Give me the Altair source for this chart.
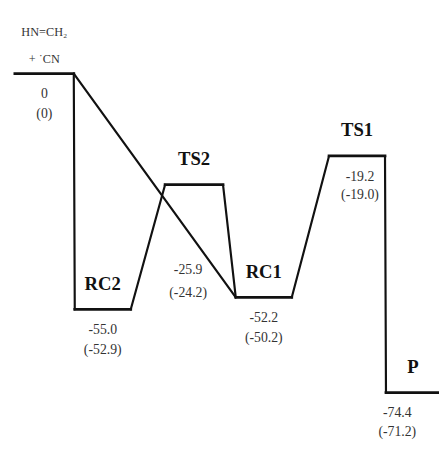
import altair as alt
import pandas as pd

# Energy profile data (kcal/mol)
levels = ["R", "RC2", "TS2", "RC1", "TS1", "P"]
names = ["", "RC2", "TS2", "RC1", "TS1", "P"]
energy = [0.0, -55.0, -25.9, -52.2, -19.2, -74.4]
energy_alt = [0.0, -52.9, -24.2, -50.2, -19.0, -71.2]
# horizontal extent of each level along the reaction coordinate (arbitrary units)
x_left = [0.7, 6.8, 16.0, 23.2, 32.7, 38.5]
x_right = [6.7, 12.5, 21.9, 28.9, 38.4, 44.0]
# connections between levels
edges_from = ["R", "R", "RC2", "TS2", "RC1", "TS1"]
edges_to = ["RC2", "RC1", "TS2", "RC1", "TS1", "P"]
reactant_line1 = "HN=CH\u2082"
reactant_line2 = "+ \u02d9CN"

def fmt(v):
    return "0" if v == 0 else f"{v:.1f}"

lv = pd.DataFrame({
    "level": levels, "name": names, "E": energy, "E2": energy_alt,
    "x1": x_left, "x2": x_right,
})
lv["xc"] = (lv["x1"] + lv["x2"]) / 2
lv["v1"] = [fmt(v) for v in energy]
lv["v2"] = ["(" + fmt(v) + ")" for v in energy_alt]

idx = lv.set_index("level")
ed = pd.DataFrame({
    "xa": [idx.loc[a, "x2"] for a in edges_from],
    "ya": [idx.loc[a, "E"] for a in edges_from],
    "xb": [idx.loc[b, "x1"] for b in edges_to],
    "yb": [idx.loc[b, "E"] for b in edges_to],
})

xs = alt.Scale(domain=[0, 43.9], nice=False, zero=False)
ys = alt.Scale(domain=[-86.6, 14.38], nice=False, zero=False)
FONT = "Liberation Serif"

lev = alt.Chart(lv).mark_rule(color="#111", strokeWidth=2.8, strokeCap="square").encode(
    x=alt.X("x1:Q", scale=xs, axis=None), x2="x2:Q",
    y=alt.Y("E:Q", scale=ys, axis=None), y2="E:Q",
)
con = alt.Chart(ed).mark_rule(color="#111", strokeWidth=2.2, strokeCap="round").encode(
    x=alt.X("xa:Q", scale=xs, axis=None), x2="xb:Q",
    y=alt.Y("ya:Q", scale=ys, axis=None), y2="yb:Q",
)

main = lv[lv["level"].isin(["R", "RC2", "RC1"])]
ts2 = lv[lv["level"] == "TS2"]
ts1 = lv[lv["level"] == "TS1"]
prod = lv[lv["level"] == "P"]
react = lv[lv["level"] == "R"]

def txt(df, field, dy, size=14, weight="normal", color="#333", dx=0, value=None):
    enc = dict(x=alt.X("xc:Q", scale=xs), y=alt.Y("E:Q", scale=ys))
    enc["text"] = alt.value(value) if value is not None else alt.Text(field + ":N")
    return alt.Chart(df).mark_text(
        font=FONT, fontSize=size, fontWeight=weight, color=color, dy=dy, dx=dx,
        baseline="middle"
    ).encode(**enc)

nm = txt(lv[lv["name"] != ""], "name", -26, size=19, weight="bold", color="#111")
layers = [con, lev, nm]
for df, d1, d2, dx in [(main, 21, 41, 0), (ts2, 87, 110, -6), (ts1, 21, 40, 3), (prod, 21, 40, -16)]:
    layers.append(txt(df, "v1", d1, dx=dx))
    layers.append(txt(df, "v2", d2, dx=dx))
layers.append(txt(react, "", -42, size=12.5, value=reactant_line1))
layers.append(txt(react, "", -15, size=12.5, value=reactant_line2))

chart = alt.layer(*layers).properties(
    width=439, height=441, padding=0, autosize="none", background="white"
).configure_view(stroke=None)

chart.save("out.html", embed_options={"renderer": "svg", "actions": False})
